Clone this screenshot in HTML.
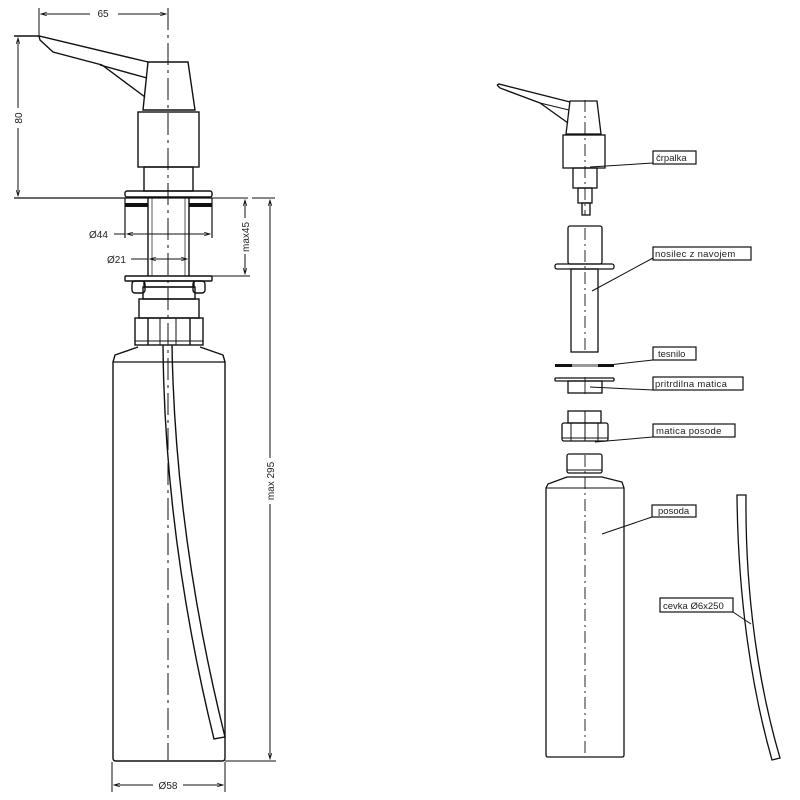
<!DOCTYPE html>
<html><head><meta charset="utf-8"><style>
html,body{margin:0;padding:0;background:#fff}
svg{display:block}
text{font-family:"Liberation Sans",sans-serif;font-size:10px;fill:#222;stroke:none}
</style></head><body>
<svg width="800" height="800" viewBox="0 0 800 800" xmlns="http://www.w3.org/2000/svg">
<defs>
<marker id="a" viewBox="0 0 10 10" refX="10" refY="5" markerWidth="8" markerHeight="6" orient="auto-start-reverse"><path d="M0,2 L10,5 L0,8" fill="none" stroke="#111" stroke-width="1.2"/></marker>
</defs>
<g fill="none" stroke="#111" stroke-width="1.4">
<line x1="168" y1="8" x2="168" y2="760" stroke-width="1" stroke-dasharray="22,5,3,5"/>
<line x1="39" y1="8" x2="39" y2="36" stroke-width="1"/>
<line x1="41" y1="14" x2="166" y2="14" stroke-width="1" marker-start="url(#a)" marker-end="url(#a)"/>
<path d="M14,36 L39,36 L148,62"/>
<path d="M39,36 L40,40 L53,52 L102,65 L145,97"/>
<path d="M100,65 L147,78"/>
<path d="M148,62 L188,62 L195,110 L143,110 Z"/>
<rect x="138" y="112" width="61" height="55"/>
<rect x="144" y="167" width="49" height="24"/>
<rect x="125" y="191" width="87" height="6" rx="2"/>
<line x1="14" y1="198" x2="212" y2="198" stroke-width="1.2"/>
<line x1="212" y1="198" x2="248" y2="198" stroke-width="1"/>
<line x1="252" y1="198" x2="275" y2="198" stroke-width="1"/>
<line x1="18" y1="38" x2="18" y2="196" stroke-width="1" marker-start="url(#a)" marker-end="url(#a)"/>
<rect x="12" y="108" width="12" height="20" fill="#fff" stroke="none"/>
<rect x="125" y="203" width="23" height="4" fill="#111" stroke="none"/>
<rect x="189" y="203" width="23" height="4" fill="#111" stroke="none"/>
<line x1="125" y1="198" x2="125" y2="238" stroke-width="1.2"/>
<line x1="212" y1="198" x2="212" y2="238" stroke-width="1.2"/>
<line x1="148" y1="198" x2="148" y2="276"/>
<line x1="189" y1="198" x2="189" y2="276"/>
<line x1="152" y1="198" x2="152" y2="276" stroke-width="0.7"/>
<line x1="185" y1="198" x2="185" y2="276" stroke-width="0.7"/>
<line x1="113" y1="234" x2="125" y2="234" stroke-width="1"/>
<line x1="127" y1="234" x2="210" y2="234" stroke-width="1" marker-start="url(#a)" marker-end="url(#a)"/>
<line x1="131" y1="259" x2="148" y2="259" stroke-width="1"/>
<line x1="150" y1="259" x2="187" y2="259" stroke-width="1" marker-start="url(#a)" marker-end="url(#a)"/>
<line x1="245" y1="200" x2="245" y2="274" stroke-width="1" marker-start="url(#a)" marker-end="url(#a)"/>
<line x1="212" y1="276" x2="250" y2="276" stroke-width="1"/>
<rect x="239" y="218" width="12" height="36" fill="#fff" stroke="none"/>
<rect x="125" y="276" width="87" height="5" rx="1"/>
<rect x="132" y="281" width="13" height="12" rx="3"/>
<rect x="193" y="281" width="12" height="12" rx="3"/>
<rect x="144" y="281" width="50" height="6"/>
<rect x="143" y="287" width="52" height="12"/>
<rect x="139" y="299" width="60" height="19"/>
<rect x="135" y="318" width="68" height="27"/>
<line x1="148" y1="318" x2="148" y2="345"/>
<line x1="160" y1="318" x2="160" y2="345" stroke-width="1"/>
<line x1="176" y1="318" x2="176" y2="345" stroke-width="1"/>
<line x1="190" y1="318" x2="190" y2="345"/>
<line x1="135" y1="341" x2="203" y2="341" stroke-width="1"/>
<path d="M138,347 L115,355 L113,362 L113,758 Q113,761 116,761 L222,761 Q225,761 225,758 L225,362 L223,355 L200,347"/>
<line x1="113" y1="362" x2="225" y2="362" stroke-width="1.2"/>
<path d="M163,345 C164,470 180,600 214,739 L225,737 C191,600 174,470 172,345"/>
<line x1="270" y1="200" x2="270" y2="759" stroke-width="1" marker-start="url(#a)" marker-end="url(#a)"/>
<line x1="225" y1="761" x2="276" y2="761" stroke-width="1"/>
<rect x="264" y="458" width="12" height="46" fill="#fff" stroke="none"/>
<line x1="112" y1="762" x2="112" y2="792" stroke-width="1"/>
<line x1="225" y1="762" x2="225" y2="792" stroke-width="1"/>
<line x1="114" y1="785" x2="223" y2="785" stroke-width="1" marker-start="url(#a)" marker-end="url(#a)"/>
</g>
<g>
<text transform="translate(22,118) rotate(-90)" text-anchor="middle">80</text>
<text transform="translate(249,237) rotate(-90)" text-anchor="middle">max45</text>
<text transform="translate(274,481) rotate(-90)" text-anchor="middle">max 295</text>
<rect x="90" y="6" width="28" height="14" fill="#fff"/>
<text x="103" y="17" text-anchor="middle">65</text>
<rect x="92" y="228" width="22" height="12" fill="#fff"/>
<text x="89" y="238">Ø44</text>
<text x="107" y="263">Ø21</text>
<rect x="153" y="779" width="30" height="12" fill="#fff"/>
<text x="168" y="789" text-anchor="middle">Ø58</text>
</g>

<g fill="none" stroke="#111" stroke-width="1.3">
<line x1="585" y1="100" x2="585" y2="215" stroke-width="0.9" stroke-dasharray="12,4,2,4"/>
<path d="M497,85 L499,84 L570,102"/>
<path d="M497,85 L500,88 L540,103 L568,123"/>
<path d="M540,103 L569,110" stroke-width="1"/>
<path d="M570,101 L597,101 L601,134 L566,134 Z"/>
<rect x="563" y="135" width="42" height="33"/>
<rect x="573" y="168" width="24" height="20"/>
<rect x="578" y="188" width="14" height="15"/>
<rect x="582" y="203" width="8" height="12"/>
<line x1="585" y1="228" x2="585" y2="350" stroke-width="0.9" stroke-dasharray="12,4,2,4"/>
<rect x="568" y="226" width="34" height="38" rx="2"/>
<rect x="555" y="264" width="59" height="5" rx="2"/>
<rect x="571" y="269" width="27" height="83"/>
<rect x="555" y="364" width="59" height="3" fill="#111" stroke="none"/>
<rect x="572" y="364" width="26" height="3" fill="#999" stroke="none"/>
<rect x="555" y="378" width="59" height="3" rx="1"/>
<rect x="568" y="381" width="34" height="12"/>
<line x1="585" y1="377" x2="585" y2="394" stroke-width="0.9"/>
<rect x="568" y="411" width="33" height="12"/>
<rect x="562" y="423" width="46" height="18" rx="2"/>
<line x1="571" y1="423" x2="571" y2="441" stroke-width="1"/>
<line x1="585" y1="411" x2="585" y2="441" stroke-width="1"/>
<line x1="598" y1="423" x2="598" y2="441" stroke-width="1"/>
<line x1="562" y1="438" x2="608" y2="438" stroke-width="1"/>
<rect x="567" y="454" width="35" height="19" rx="2"/>
<line x1="567" y1="470" x2="602" y2="470" stroke-width="1"/>
<path d="M567,477 L548,484 L546,488 L546,755 Q546,757 548,757 L622,757 Q624,757 624,755 L624,488 L622,482 L602,477 Z"/>
<line x1="546" y1="488" x2="624" y2="488" stroke-width="1"/>
<line x1="585" y1="455" x2="585" y2="757" stroke-width="0.9" stroke-dasharray="12,4,2,4"/>
<path d="M737,495 L746,495 C745,600 760,690 780,758 L772,760 C752,690 738,600 737,495 Z"/>
<g stroke-width="1">
<line x1="590" y1="167" x2="653" y2="163"/>
<line x1="592" y1="291" x2="653" y2="258"/>
<line x1="600" y1="366" x2="653" y2="360"/>
<line x1="590" y1="387" x2="653" y2="390"/>
<line x1="595" y1="442" x2="653" y2="437"/>
<line x1="602" y1="534" x2="652" y2="517"/>
<line x1="733" y1="612" x2="751" y2="624"/>
</g>
<g stroke-width="1.2">
<rect x="653" y="151" width="43" height="13"/>
<rect x="653" y="247" width="98" height="13"/>
<rect x="653" y="347" width="43" height="13"/>
<rect x="653" y="377" width="90" height="13"/>
<rect x="653" y="424" width="82" height="13"/>
<rect x="652" y="505" width="44" height="12"/>
<rect x="660" y="598" width="73" height="14"/>
</g>
</g>
<g>
<text x="656" y="161" style="font-size:9.5px">črpalka</text>
<text x="655" y="257" style="font-size:9.5px;letter-spacing:0.3px">nosilec z navojem</text>
<text x="658" y="357" style="font-size:9.5px">tesnilo</text>
<text x="655" y="387" style="font-size:9.5px;letter-spacing:0.3px">pritrdilna matica</text>
<text x="656" y="434" style="font-size:9.5px;letter-spacing:0.3px">matica posode</text>
<text x="658" y="514" style="font-size:9.5px">posoda</text>
<text x="663" y="609" style="font-size:9.5px">cevka Ø6x250</text>
</g>
</svg>
</body></html>
